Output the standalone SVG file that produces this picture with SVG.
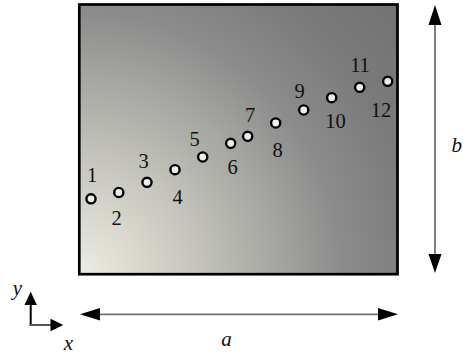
<svg xmlns="http://www.w3.org/2000/svg" width="463" height="355" viewBox="0 0 463 355">
<style>
.lbl{font-family:"Liberation Serif","DejaVu Serif",serif;font-size:20.5px;fill:#111;text-anchor:middle}
.it{font-family:"Liberation Serif","DejaVu Serif",serif;font-size:21px;font-style:italic;fill:#111}
.pt{fill:#eeeeee;stroke:#000;stroke-width:2.4}
.dim{stroke:#707070;stroke-width:1.8;fill:none}
.head{fill:#000}
</style>
<defs>
<radialGradient id="bg" gradientUnits="userSpaceOnUse" cx="80" cy="274" r="420">
<stop offset="0" stop-color="#ecece2"/>
<stop offset="0.28" stop-color="#c4c4bc"/>
<stop offset="0.62" stop-color="#8c8c8c"/>
<stop offset="0.8" stop-color="#7b7b7b"/>
<stop offset="1" stop-color="#727272"/>
</radialGradient>
</defs>
<g id="plate">
<rect x="79.3" y="4.5" width="318.2" height="269.7" fill="url(#bg)" stroke="#000" stroke-width="2.7"/>
</g>
<g id="points">
<g id="p1"><circle class="pt" cx="91" cy="198.8" r="4.6"/><text class="lbl" x="92" y="181.5">1</text></g>
<g id="p2"><circle class="pt" cx="118.8" cy="192.5" r="4.6"/><text class="lbl" x="116.5" y="225">2</text></g>
<g id="p3"><circle class="pt" cx="147" cy="182.3" r="4.6"/><text class="lbl" x="143.5" y="168">3</text></g>
<g id="p4"><circle class="pt" cx="175" cy="169.7" r="4.6"/><text class="lbl" x="177.5" y="204">4</text></g>
<g id="p5"><circle class="pt" cx="202.7" cy="157" r="4.6"/><text class="lbl" x="194.5" y="145.5">5</text></g>
<g id="p6"><circle class="pt" cx="230.7" cy="143.3" r="4.6"/><text class="lbl" x="232.5" y="174">6</text></g>
<g id="p7"><circle class="pt" cx="247.7" cy="136.3" r="4.6"/><text class="lbl" x="250" y="122">7</text></g>
<g id="p8"><circle class="pt" cx="275.7" cy="123" r="4.6"/><text class="lbl" x="277.5" y="157">8</text></g>
<g id="p9"><circle class="pt" cx="303.7" cy="110" r="4.6"/><text class="lbl" x="299.5" y="97.5">9</text></g>
<g id="p10"><circle class="pt" cx="331.7" cy="97.7" r="4.6"/><text class="lbl" x="335.5" y="128">10</text></g>
<g id="p11"><circle class="pt" cx="359.7" cy="87.3" r="4.6"/><text class="lbl" x="360" y="71.5">11</text></g>
<g id="p12"><circle class="pt" cx="387.7" cy="81.3" r="4.6"/><text class="lbl" x="381" y="116.5">12</text></g>
</g>
<g id="connectors">
<g id="dim-a">
<line class="dim" x1="98" y1="314.3" x2="380" y2="314.3"/>
<polygon class="head" points="80,314.3 100,308 100,320.6"/>
<polygon class="head" points="398,314.3 378,308 378,320.6"/>
</g>
<g id="dim-b">
<line class="dim" x1="435" y1="22" x2="435" y2="257"/>
<polygon class="head" points="435,5 428.5,25 441.5,25"/>
<polygon class="head" points="435,273 428.5,254 441.5,254"/>
</g>
<g id="axes">
<line x1="30.7" y1="326" x2="30.7" y2="303" stroke="#000" stroke-width="2"/>
<line x1="29.7" y1="325" x2="52" y2="325" stroke="#555" stroke-width="2"/>
<polygon class="head" points="30.7,291.7 24.5,305 36.9,305"/>
<polygon class="head" points="63.3,325 50.5,318.8 50.5,331.2"/>
</g>
</g>
<g id="labels">
<text class="it" x="226.5" y="346" text-anchor="middle">a</text>
<text class="it" x="451.5" y="152">b</text>
<text class="it" x="17.5" y="295" text-anchor="middle">y</text>
<text class="it" x="68.5" y="350" text-anchor="middle">x</text>
</g>
</svg>
